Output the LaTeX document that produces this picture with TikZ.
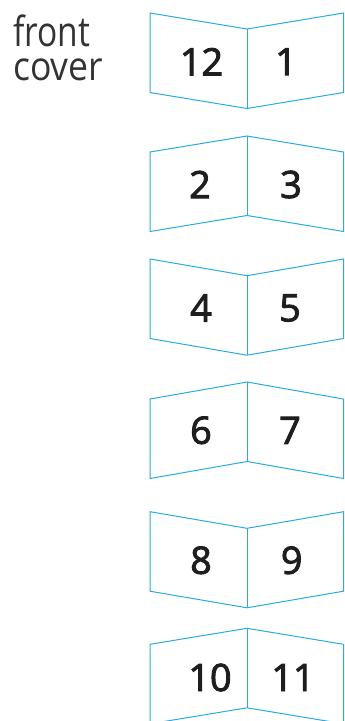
\documentclass[tikz,border=0pt]{standalone}
\usepackage{fontspec}
\setmainfont{Open Sans}
\newcommand\heavier[1]{\special{pdf:literal direct 2 Tr 0.9 w}#1\special{pdf:literal direct 0 Tr}}
\definecolor{fold}{RGB}{41,171,226}
\definecolor{txt}{RGB}{51,51,51}
\definecolor{dig}{RGB}{30,30,30}
\begin{document}
\begin{tikzpicture}[x=1pt,y=-1pt,
  panel/.style={draw=fold,line width=1pt,line join=miter},
  num/.style={font=\fontsize{37.8}{40}\selectfont,text=dig,inner sep=0pt},
  caption/.style={text=txt,inner sep=0pt,anchor=base west}]
\useasboundingbox (0,0) rectangle (345,721);
\clip (0,0) rectangle (345,721);
% id / outer top / spine top / left text / right text / left x / right x / centre y
\foreach \i/\o/\s/\lt/\rt/\lx/\rx/\cy in {
  1/13/29/12/1/201.5/286/61.7,
  2/152/136/2/3/200/291/184.5,
  3/259/275.7/4/5/201/290/308,
  4/399/382/6/7/201/290/430.3,
  5/511.7/528.3/8/9/201/291.7/560.3,
  6/644.3/628.3/10/11/210/293/677.5}{
  \coordinate (lt\i) at (150,\o);
  \coordinate (st\i) at (247,\s);
  \coordinate (rt\i) at (343.5,\o);
  \coordinate (lb\i) at (150,\o+79.5);
  \coordinate (sb\i) at (247,\s+79.5);
  \coordinate (rb\i) at (343.5,\o+79.5);
  \draw[panel] (lt\i) -- (st\i) -- (rt\i) -- (rb\i) -- (sb\i) -- (lb\i) -- cycle;
  \draw[panel] (st\i) -- (sb\i);
  \node[num] (L\i) at (\lx,\cy) {\heavier{\lt}};
  \node[num] (R\i) at (\rx,\cy) {\heavier{\rt}};
}
\node[caption] (front) at (13,46.7) {\resizebox{77pt}{31.7pt}{front}};
\node[caption] (cover) at (13,80) {\resizebox{90pt}{21.7pt}{cover}};
\end{tikzpicture}
\end{document}
